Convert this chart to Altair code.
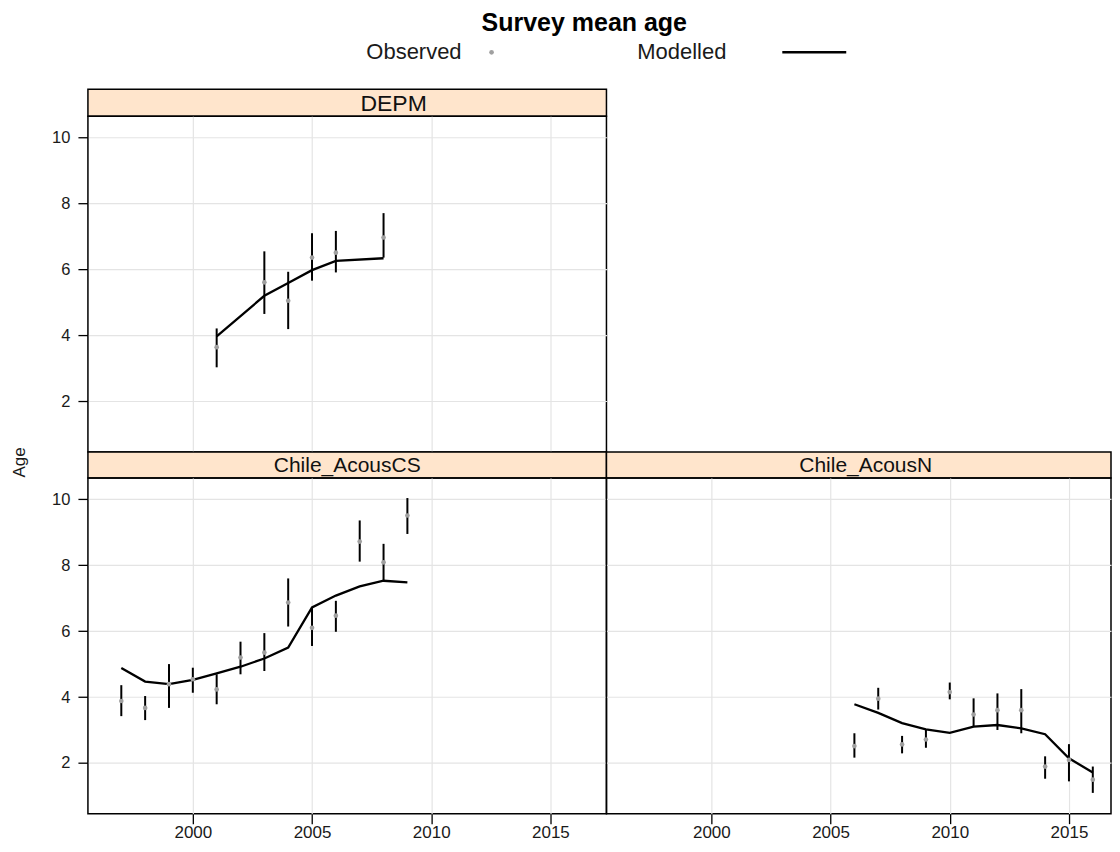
import altair as alt
import pandas as pd

FONT = "Liberation Sans"

# ---------------- data ----------------
panels = ["DEPM", "Chile_AcousCS", "Chile_AcousN"]
legend_labels = ["Observed", "Modelled"]
x_ticks = [2000, 2005, 2010, 2015]
y_ticks = [2, 4, 6, 8, 10]

depm_year = [2001, 2003, 2004, 2005, 2006, 2008]
depm_obs = [3.64, 5.61, 5.05, 6.36, 6.51, 6.97]
depm_low = [3.03, 4.65, 4.19, 5.66, 5.91, 6.36]
depm_high = [4.21, 6.55, 5.93, 7.10, 7.17, 7.71]
depm_fit = [3.97, 5.20, 5.59, 5.98, 6.26, 6.34]

cs_year = [1997, 1998, 1999, 2000, 2001, 2002, 2003, 2004, 2005, 2006, 2007, 2008, 2009]
cs_obs = [3.88, 3.67, 4.39, 4.54, 4.23, 5.20, 5.35, 6.87, 6.10, 6.47, 8.72, 8.09, 9.51]
cs_low = [3.42, 3.30, 3.67, 4.13, 3.78, 4.69, 4.79, 6.14, 5.55, 5.98, 8.11, 7.53, 8.95]
cs_high = [4.36, 4.03, 5.00, 4.89, 4.69, 5.68, 5.94, 7.60, 6.72, 6.92, 9.36, 8.65, 10.04]
cs_fit = [4.88, 4.47, 4.39, 4.52, 4.72, 4.92, 5.17, 5.50, 6.72, 7.08, 7.36, 7.53, 7.48]

n_year = [2006, 2007, 2008, 2009, 2010, 2011, 2012, 2013, 2014, 2015, 2016]
n_obs = [2.51, 3.95, 2.56, 2.71, 4.15, 3.47, 3.60, 3.60, 1.89, 2.09, 1.49]
n_low = [2.16, 3.62, 2.29, 2.46, 3.93, 3.10, 3.00, 2.90, 1.52, 1.44, 1.09]
n_high = [2.90, 4.28, 2.82, 3.02, 4.44, 3.96, 4.11, 4.24, 2.20, 2.57, 1.89]
n_fit = [3.78, 3.52, 3.21, 3.02, 2.91, 3.10, 3.15, 3.05, 2.87, 2.14, 1.71]

# ---------------- style ----------------
XDOM = [1995.6, 2017.35]
YDOM = [0.46, 10.65]
PW = 519          # left column panel width
PW_R = 505        # right column (cut by the page edge in the reference)
PH = 336
LEG_H = 53
GRID = "#e4e4e4"
STRIP_FILL = "#ffe5cc"
POINT_GREY = "#a0a0a0"


def make_df(year, obs, low, high, fit):
    return pd.DataFrame({"Year": year, "Observed": obs, "Low": low,
                         "High": high, "Modelled": fit})


def panel_plot(df, width, show_x, show_y, y_title=False):
    xdom = [XDOM[0], XDOM[0] + (XDOM[1] - XDOM[0]) * width / PW]
    xaxis = alt.Axis(values=x_ticks, format="d", grid=True, gridColor=GRID,
                     gridWidth=1.2, labels=show_x, ticks=show_x, domain=False,
                     title=None, tickSize=10, tickColor="black", tickWidth=1.3,
                     labelFontSize=17, labelPadding=1, labelColor="#1a1a1a",
                     labelFont=FONT)
    yargs = dict(values=y_ticks, grid=True, gridColor=GRID, gridWidth=1.2,
                 labels=show_y, ticks=show_y, domain=False, tickSize=10,
                 tickColor="black", tickWidth=1.3, labelFontSize=16.5,
                 labelPadding=8, labelColor="#1a1a1a", labelFont=FONT)
    if y_title:
        yaxis = alt.Axis(title="Age", titleFont=FONT, titleFontSize=17,
                         titleFontWeight="normal", titleColor="#1a1a1a",
                         titleX=-59, titleY=-16, **yargs)
    else:
        yaxis = alt.Axis(title=None, **yargs)
    xs = alt.Scale(domain=xdom, nice=False, zero=False)
    ys = alt.Scale(domain=YDOM, nice=False, zero=False)
    x = alt.X("Year:Q", scale=xs, axis=xaxis)
    base = alt.Chart(df)
    bars = base.mark_rule(color="black", strokeWidth=2).encode(
        x=x, y=alt.Y("Low:Q", scale=ys, axis=yaxis), y2="High:Q")
    line = base.mark_line(color="black", strokeWidth=2.3).encode(
        x=x, y=alt.Y("Modelled:Q", scale=ys, axis=yaxis))
    pts = base.mark_circle(color=POINT_GREY, size=22, opacity=1).encode(
        x=x, y=alt.Y("Observed:Q", scale=ys, axis=yaxis))
    return alt.layer(bars, line, pts).properties(
        width=width, height=PH,
        view=alt.ViewBackground(stroke="black", strokeWidth=1.5))


def strip(label, width, height, fontsize, xpos):
    return alt.Chart(alt.Data(values=[{"panel": label}])).mark_text(
        font=FONT, fontSize=fontsize, color="#111111", align="center",
        baseline="middle").encode(
        x=alt.value(xpos), y=alt.value(height / 2 + 1), text="panel:N"
    ).properties(width=width, height=height,
                 view=alt.ViewBackground(fill=STRIP_FILL, stroke="black",
                                         strokeWidth=1.5))


def blank(width, height):
    return alt.Chart(alt.Data(values=[{"panel": ""}])).mark_point(
        opacity=0).encode(x=alt.value(0), y=alt.value(0)).properties(
        width=width, height=height,
        view=alt.ViewBackground(stroke="transparent"))


# ---------------- legend (two cells) ----------------
leg_y = 16
obs_txt = alt.Chart(alt.Data(values=[{"label": legend_labels[0]}])).mark_text(
    font=FONT, fontSize=22, align="right", baseline="middle", color="#1a1a1a"
).encode(x=alt.value(374), y=alt.value(leg_y), text="label:N")
obs_key = alt.Chart(alt.Data(values=[{"label": legend_labels[0]}])).mark_circle(
    color=POINT_GREY, size=22, opacity=1
).encode(x=alt.value(404), y=alt.value(leg_y))
legend_left = alt.layer(obs_txt, obs_key).properties(
    width=PW, height=LEG_H, view=alt.ViewBackground(stroke="transparent"))

mod_txt = alt.Chart(alt.Data(values=[{"label": legend_labels[1]}])).mark_text(
    font=FONT, fontSize=22, align="right", baseline="middle", color="#1a1a1a"
).encode(x=alt.value(120), y=alt.value(leg_y), text="label:N")
mod_key = alt.Chart(alt.Data(values=[{"label": legend_labels[1]}])).mark_rule(
    color="black", strokeWidth=2.5
).encode(x=alt.value(176), x2=alt.value(240), y=alt.value(leg_y))
legend_right = alt.layer(mod_txt, mod_key).properties(
    width=PW_R, height=LEG_H, view=alt.ViewBackground(stroke="transparent"))

# ---------------- grid of cells ----------------
cells = [
    legend_left, legend_right,
    strip(panels[0], PW, 27, 23, 306), blank(PW_R, 27),
    panel_plot(make_df(depm_year, depm_obs, depm_low, depm_high, depm_fit),
               PW, show_x=False, show_y=True), blank(PW_R, PH),
    strip(panels[1], PW, 26, 21, PW / 2), strip(panels[2], PW_R, 26, 21, PW / 2),
    panel_plot(make_df(cs_year, cs_obs, cs_low, cs_high, cs_fit),
               PW, show_x=True, show_y=True, y_title=True),
    panel_plot(make_df(n_year, n_obs, n_low, n_high, n_fit),
               PW_R, show_x=True, show_y=False),
]

chart = alt.concat(
    *cells, columns=2, spacing=0, bounds="flush",
    title=alt.TitleParams("Survey mean age", font=FONT, fontSize=25,
                          fontWeight="bold", color="black", anchor="start",
                          frame="group", offset=0, dx=394),
).properties(
    padding={"left": 2, "top": 2, "right": 0, "bottom": 0}
).configure_concat(spacing=0).configure_view(stroke="black")

chart.save("out.html", embed_options={"renderer": "svg", "actions": False})
